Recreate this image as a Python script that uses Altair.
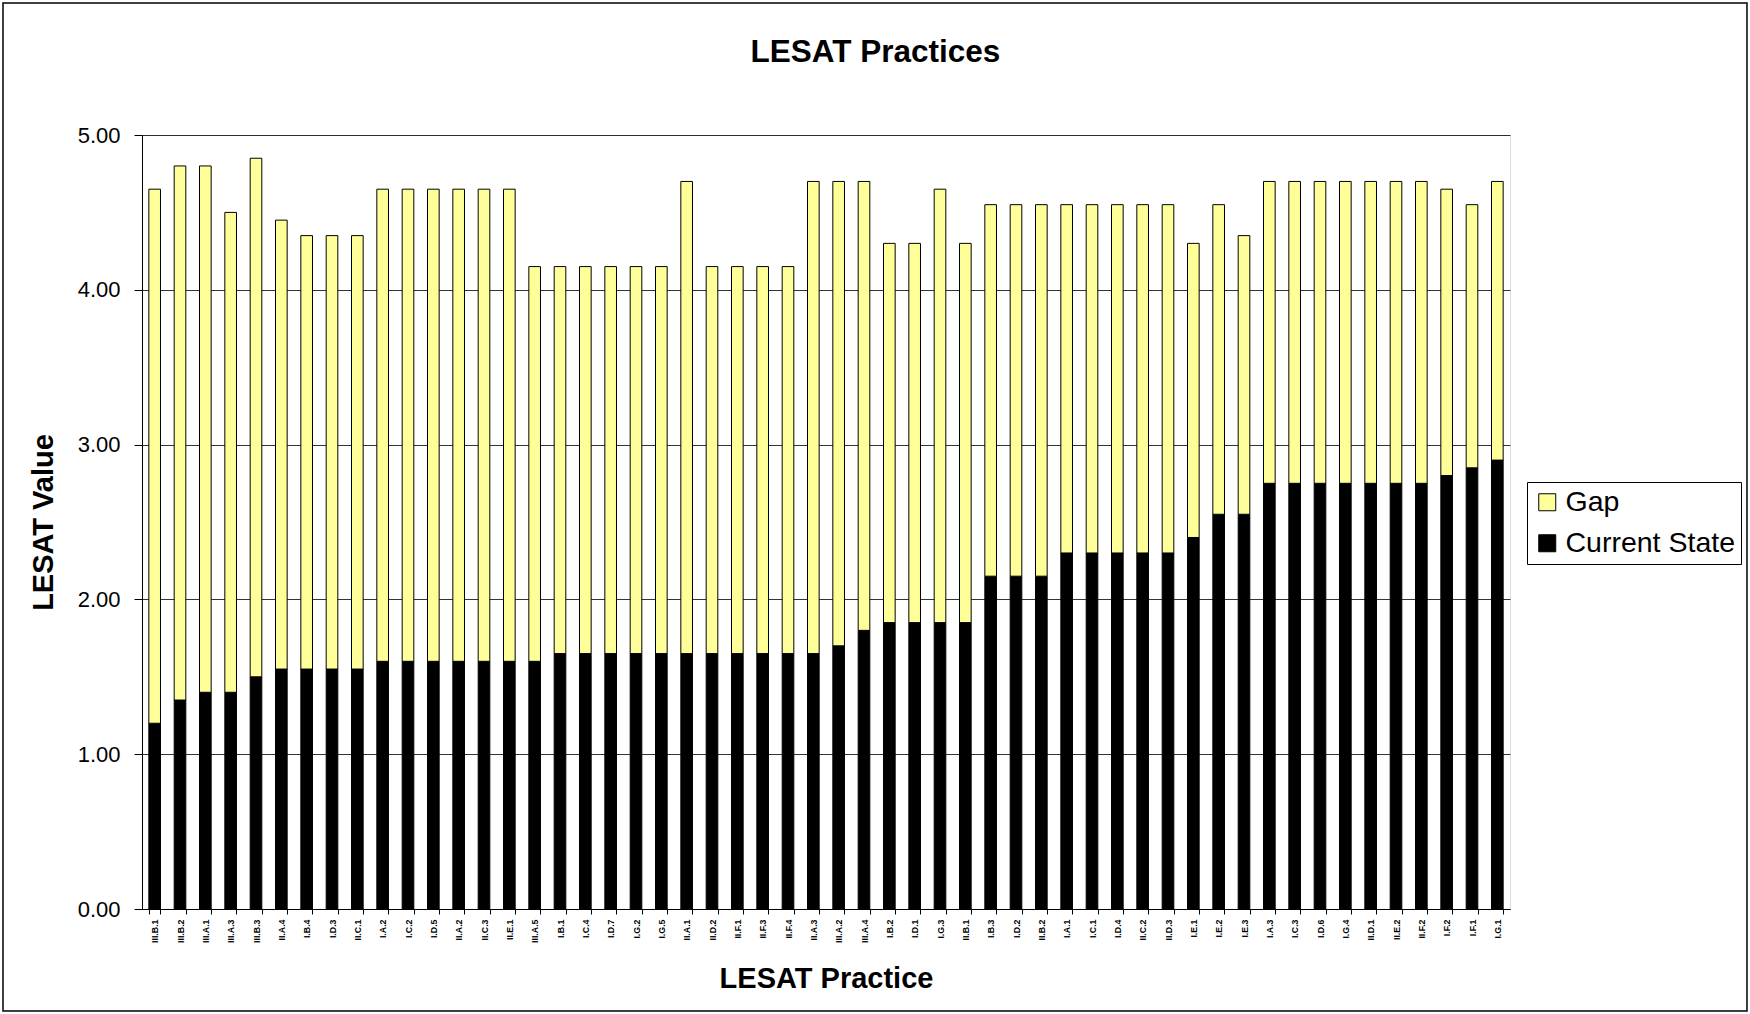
import altair as alt
import pandas as pd

categories = ["III.B.1", "III.B.2", "III.A.1", "III.A.3", "III.B.3", "II.A.4", "I.B.4", "I.D.3", "II.C.1",
              "I.A.2", "I.C.2", "I.D.5", "II.A.2", "II.C.3", "II.E.1", "III.A.5", "I.B.1", "I.C.4",
              "I.D.7", "I.G.2", "I.G.5", "II.A.1", "II.D.2", "II.F.1", "II.F.3", "II.F.4", "II.A.3",
              "III.A.2", "III.A.4", "I.B.2", "I.D.1", "I.G.3", "II.B.1", "I.B.3", "I.D.2", "II.B.2",
              "I.A.1", "I.C.1", "I.D.4", "II.C.2", "II.D.3", "I.E.1", "I.E.2", "I.E.3", "I.A.3",
              "I.C.3", "I.D.6", "I.G.4", "II.D.1", "II.E.2", "II.F.2", "I.F.2", "I.F.1", "I.G.1"]

current_state = [1.20, 1.35, 1.40, 1.40, 1.50, 1.55, 1.55, 1.55, 1.55,
                 1.60, 1.60, 1.60, 1.60, 1.60, 1.60, 1.60, 1.65, 1.65,
                 1.65, 1.65, 1.65, 1.65, 1.65, 1.65, 1.65, 1.65, 1.65,
                 1.70, 1.80, 1.85, 1.85, 1.85, 1.85, 2.15, 2.15, 2.15,
                 2.30, 2.30, 2.30, 2.30, 2.30, 2.40, 2.55, 2.55, 2.75,
                 2.75, 2.75, 2.75, 2.75, 2.75, 2.75, 2.80, 2.85, 2.90]

gap = [3.45, 3.45, 3.40, 3.10, 3.35, 2.90, 2.80, 2.80, 2.80,
       3.05, 3.05, 3.05, 3.05, 3.05, 3.05, 2.55, 2.50, 2.50,
       2.50, 2.50, 2.50, 3.05, 2.50, 2.50, 2.50, 2.50, 3.05,
       3.00, 2.90, 2.45, 2.45, 2.80, 2.45, 2.40, 2.40, 2.40,
       2.25, 2.25, 2.25, 2.25, 2.25, 1.90, 2.00, 1.80, 1.95,
       1.95, 1.95, 1.95, 1.95, 1.95, 1.95, 1.85, 1.70, 1.80]

series_names = ["Gap", "Current State"]
series_colors = ["#FFFF99", "#000000"]
chart_title = "LESAT Practices"

rows = []
for c, cs, g in zip(categories, current_state, gap):
    rows.append({"practice": c, "series": "Current State", "value": cs, "ord": 0})
    rows.append({"practice": c, "series": "Gap", "value": g, "ord": 1})
df = pd.DataFrame(rows)

FONT = "Liberation Sans"

bars = alt.Chart(df).mark_bar(stroke="#000000", strokeWidth=1).encode(
    x=alt.X("practice:N", sort=categories,
            scale=alt.Scale(paddingInner=0.54, paddingOuter=0.27),
            axis=alt.Axis(title="LESAT Practice", labelAngle=270, labelFontSize=8.8,
                          labelFontWeight="bold",
                          labelFont=FONT, labelColor="#000000", labelPadding=5,
                          tickBand="extent", tickSize=5, tickColor="#000000",
                          domainColor="#000000",
                          titleFont=FONT, titleFontSize=29, titleFontWeight="bold",
                          titleColor="#000000", titleY=69, titleBaseline="middle")),
    y=alt.Y("value:Q", stack="zero",
            scale=alt.Scale(domain=[0, 5], nice=False),
            axis=alt.Axis(title="LESAT Value", format=".2f", values=[0, 1, 2, 3, 4, 5],
                          labelFont=FONT, labelFontSize=22, labelColor="#000000",
                          labelPadding=14, tickSize=8, tickColor="#000000",
                          domainColor="#000000", gridColor="#000000", gridWidth=0.8,
                          titleFont=FONT, titleFontSize=29, titleFontWeight="bold",
                          titleColor="#000000", titleX=-99, titleBaseline="middle",
                          titleAngle=270)),
    color=alt.Color("series:N", sort=series_names,
                    scale=alt.Scale(domain=series_names, range=series_colors),
                    legend=alt.Legend(title=None, orient="none", legendX=1385, legendY=347,
                                      symbolType="square", symbolSize=289,
                                      symbolStrokeColor="#000000", symbolStrokeWidth=1,
                                      labelFont=FONT, labelFontSize=28.5, labelColor="#000000",
                                      labelOffset=4, rowPadding=12, padding=6,
                                      strokeColor="#000000",
                                      fillColor="#FFFFFF", labelLimit=300)),
    order=alt.Order("ord:Q"),
)

title_text = alt.Chart(pd.DataFrame({"t": [chart_title]})).mark_text(
    font=FONT, fontSize=31.5, fontWeight="bold", color="#000000",
    align="center", baseline="alphabetic"
).encode(text="t:N", x=alt.value(733.5), y=alt.value(-73))

border = alt.Chart(pd.DataFrame({"k": [0]})).mark_rect(
    fill=None, stroke="#000000", strokeWidth=1.5
).encode(x=alt.value(-139), x2=alt.value(1605), y=alt.value(-132), y2=alt.value(876))

chart = alt.layer(bars, title_text, border).properties(
    width=1368, height=774,
    autosize=alt.AutoSizeParams(type="none"),
    padding={"left": 142, "top": 135, "right": 240, "bottom": 105},
).configure_view(stroke="#808080", strokeWidth=1.2).configure(background="#FFFFFF")

chart.save("out.html", embed_options={"renderer": "svg", "actions": False})
